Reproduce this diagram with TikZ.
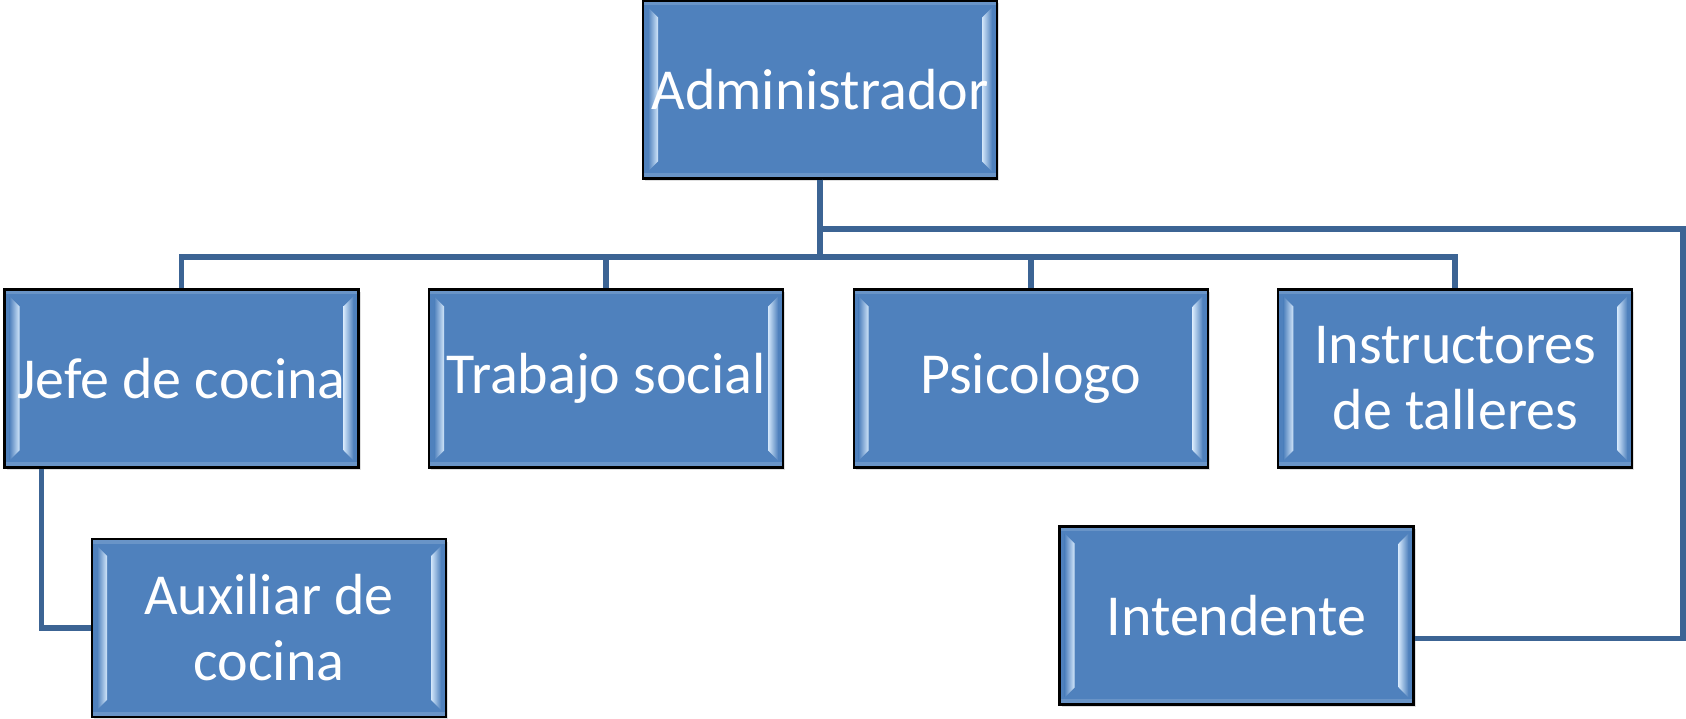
\documentclass[tikz,border=0pt]{standalone}
\usepackage{xcolor}
\usepackage{fontspec}
\setmainfont{Carlito}
\usepackage{tikz}
\usetikzlibrary{shapes,arrows,positioning,calc,shadows}

\definecolor{boxblue}{HTML}{4F81BD}
\definecolor{bevhi}{HTML}{D2E6FA}
\definecolor{linkblue}{HTML}{3C6494}

\begin{document}
\begin{tikzpicture}[
        node distance=1.2cm and 0.685cm,
        post/.style={rectangle, draw=black, line width=0.6pt, fill=boxblue, text=white,
            minimum width=3.54cm, minimum height=1.78cm, inner sep=1pt, align=center,
            font=\fontsize{16.5}{18.8}\selectfont,
            drop shadow={opacity=0.25, shadow xshift=0.6pt, shadow yshift=-0.8pt},
            path picture={
                \coordinate (sw) at (path picture bounding box.south west);
                \coordinate (ne) at (path picture bounding box.north east);
                \fill[boxblue!85!white] (sw) rectangle ($(sw-|ne)+(0,0.05)$);
                \fill[boxblue!85!white] ($(ne-|sw)+(0,-0.05)$) rectangle (ne);
                \shade[left color=boxblue, right color=bevhi]
                    ($(sw)+(0.05,0.07)$) -- ($(sw)+(0.15,0.17)$) -- ($(sw|-ne)+(0.15,-0.17)$)
                    -- ($(sw|-ne)+(0.05,-0.07)$) -- cycle;
                \shade[left color=bevhi, right color=boxblue]
                    ($(sw-|ne)+(-0.05,0.07)$) -- ($(sw-|ne)+(-0.15,0.17)$) -- ($(ne)+(-0.15,-0.17)$)
                    -- ($(ne)+(-0.05,-0.07)$) -- cycle;
            }},
        link/.style={draw=linkblue, line width=1.7pt}
    ]
    \useasboundingbox (0,0) rectangle (16.86,7.19);

    \node[post] (admin) at (8.20,6.295) {Administrador};
    \node[post] (jefe) at (1.815,3.405) {Jefe de cocina};
    \node[post, right=of jefe] (trabajo) {Trabajo social};
    \node[post, right=of trabajo] (psico) {Psicologo};
    \node[post, right=of psico] (instr) {Instructores\\de talleres};
    \node[post] (aux) at (2.69,0.91) {Auxiliar de\\cocina};
    \node[post] (intend) at (12.365,1.035) {Intendente};

    \coordinate (rgt) at (16.83,0);
    \coordinate (tail) at ([yshift=-2.3mm]intend.east);

    \foreach \n in {jefe,trabajo,psico,instr}
        \draw[link] (admin.south) -- ++(0,-0.77) -| (\n.north);

    \draw[link] ([yshift=-4.9mm]admin.south) -| (rgt |- tail) -- (tail);

    \draw[link] ([xshift=-14mm]jefe.south) |- (aux.west);

    \end{tikzpicture}
\end{document}
